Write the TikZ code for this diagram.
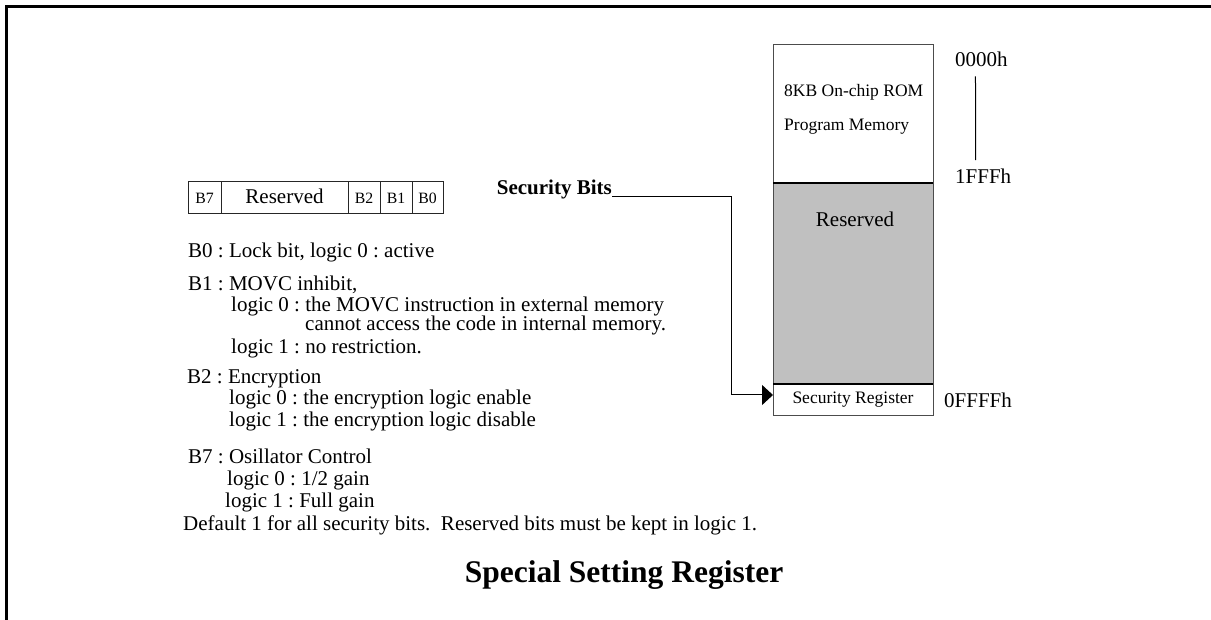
\documentclass[tikz,border=0pt]{standalone}
\usepackage{fontspec}
\setmainfont{Liberation Serif}
\usetikzlibrary{positioning,arrows.meta}
\frenchspacing

\definecolor{resgray}{RGB}{192,192,192}

\tikzset{
  txt/.style={anchor=base west, inner sep=0pt, font=\fontsize{21}{21}\selectfont},
  smalltxt/.style={anchor=base west, inner sep=0pt, font=\fontsize{17.5}{17.5}\selectfont},
  cell/.style={draw=black!85, line width=1pt, minimum height=32pt, inner sep=0pt, outer sep=0pt,
    text height=12pt, text depth=0pt, font=\fontsize{15.75}{16}\selectfont},
  memblk/.style={draw=black!70, line width=1pt, minimum width=160pt, inner sep=0pt, outer sep=0pt},
  conn/.style={draw, line width=1pt, -{Triangle[length=11pt,width=20pt]}},
}

\begin{document}
\begin{tikzpicture}[x=1pt,y=-1pt]
\useasboundingbox (0,0) rectangle (1211,620);

% Frame
\draw[line width=2.5pt] (6.5,625) -- (6.5,6.5) -- (1215,6.5);

% Register bits
\node[cell, minimum width=33pt] (bB7) at (204.5,198) {B7};
\node[cell, minimum width=127pt, right=0pt of bB7, font=\fontsize{21}{21}\selectfont] (bres) {Reserved};
\node[cell, minimum width=32pt, right=0pt of bres] (bB2) {B2};
\node[cell, minimum width=32pt, right=0pt of bB2] (bB1) {B1};
\node[cell, minimum width=31pt, right=0pt of bB1] (bB0) {B0};

% Bit descriptions
\node[txt] (dB0) at (188,258) {B0 : Lock bit, logic 0 : active};
\node[txt] (dB1) at (188,291) {B1 : MOVC inhibit,};
\node[txt] (dB1a) at (231,312) {logic 0 : the MOVC instruction in external memory};
\node[txt] (dB1b) at (305,331) {cannot access the code in internal memory.};
\node[txt] (dB1c) at (231,354) {logic 1 : no restriction.};
\node[txt] (dB2) at (187,384) {B2 : Encryption};
\node[txt] (dB2a) at (229,405) {logic 0 : the encryption logic enable};
\node[txt] (dB2b) at (229,427) {logic 1 : the encryption logic disable};
\node[txt] (dB7) at (188,463) {B7 : Osillator Control};
\node[txt] (dB7a) at (227,485) {logic 0 : 1/2 gain};
\node[txt] (dB7b) at (225,507) {logic 1 : Full gain};
\node[txt] (dflt) at (183,530) {Default 1 for all security bits.\ \ Reserved bits must be kept in logic 1.};

% Memory map
\node[memblk, minimum height=138pt] (rom) at (853,114) {};
\node[memblk, minimum height=201pt, fill=resgray, below=0pt of rom] (resv) {};
\node[memblk, minimum height=32pt, below=0pt of resv, text height=6pt, text depth=0pt,
  font=\fontsize{17.5}{17.5}\selectfont] (secreg) {Security Register};
\draw[line width=1.6pt] (rom.south west) -- (rom.south east);
\draw[line width=1.6pt] (resv.south west) -- (resv.south east);
\node[smalltxt] (romA) at (784,97) {8KB On-chip ROM};
\node[smalltxt] (romB) at (784,131) {Program Memory};
\node[txt, anchor=base] (resvlbl) at (855,227) {Reserved};

% Addresses
\node[txt] (addr0) at (955,67) {0000h};
\node[txt] (addr1) at (955,184) {1FFFh};
\node[txt] (addr2) at (944,407) {0FFFFh};
\draw[line width=1pt, shorten <=9pt, shorten >=9pt] ([xshift=-6pt]addr0.south) -- ([xshift=-7.5pt]addr1.north);

% Security bits pointer
\node[txt, anchor=base east, font=\bfseries\fontsize{21}{21}\selectfont] (secbits) at (612,195) {Security Bits};
\draw[conn] ([yshift=-2pt]secbits.base east) -- ++(119,0) |- ([yshift=5pt]secreg.west);

% Title
\node[anchor=base, font=\bfseries\fontsize{31.5}{31.5}\selectfont] (title) at (624,582) {Special Setting Register};
\end{tikzpicture}
\end{document}
